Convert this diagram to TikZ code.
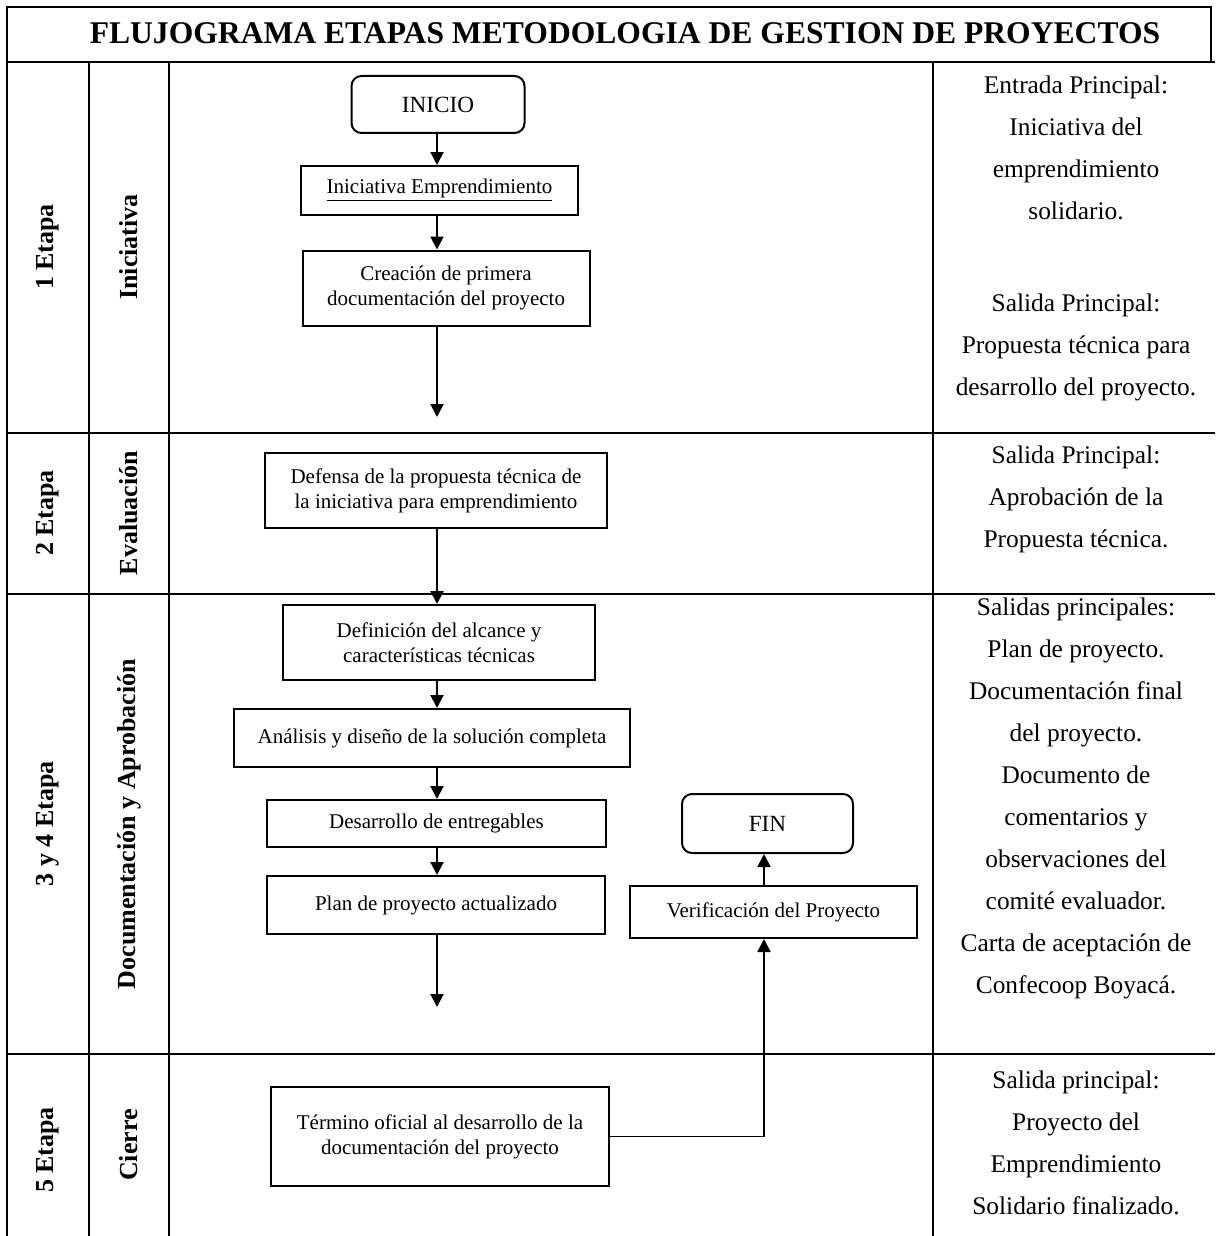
\documentclass[tikz,border=0pt]{standalone}
\usepackage{fontspec}
\setmainfont{Liberation Serif}
\usetikzlibrary{arrows.meta}

\begin{document}
\begin{tikzpicture}[x=0.5pt, y=-0.5pt,
		caja/.style={draw, line width=1pt, align=center, inner sep=2pt, font=\fontsize{10.5}{12.5}\selectfont},
		terminal/.style={caja, rounded corners=5pt, font=\fontsize{11.6}{14}\selectfont},
		etiqueta/.style={rotate=90, font=\fontsize{13}{15}\selectfont\bfseries},
		salida/.style={anchor=north, align=center, inner sep=0pt, font=\fontsize{12.7}{21}\selectfont},
		flecha/.style={-{Triangle[width=6.5pt,length=6.5pt]}, line width=1pt}]

	\useasboundingbox (0,0) rectangle (1215,1236);

	% tabla
	\begin{scope}[line width=1pt]
		\draw (7,1236) -- (7,7) -- (1211,7) -- (1211,62);
		\draw (7,62) -- (1215,62);
		\foreach \y in {433,594,1054} \draw (7,\y) -- (1215,\y);
		\foreach \x in {89,169,933} \draw (\x,62) -- (\x,1236);
	\end{scope}

	\node[font=\fontsize{15.8}{18}\selectfont\bfseries] (titulo) at (625,33) {FLUJOGRAMA ETAPAS METODOLOGIA DE GESTION DE PROYECTOS};

	% etapas
	\node[etiqueta] (etapa1) at (48,247) {1 Etapa};
	\node[etiqueta] (fase1) at (129,247) {Iniciativa};
	\node[etiqueta] (etapa2) at (48,513) {2 Etapa};
	\node[etiqueta] (fase2) at (129,513) {Evaluación};
	\node[etiqueta] (etapa3) at (48,824) {3 y 4 Etapa};
	\node[etiqueta] (fase3) at (129,824) {Documentación y Aprobación};
	\node[etiqueta] (etapa5) at (48,1150) {5 Etapa};
	\node[etiqueta] (fase5) at (129,1145) {Cierre};

	% salidas
	\node[salida] (ent1) at (1076,75) {Entrada Principal:\\Iniciativa del\\emprendimiento\\solidario.};
	\node[salida] (sal1) at (1076,293) {Salida Principal:\\Propuesta técnica para\\desarrollo del proyecto.};
	\node[salida] (sal2) at (1076,445) {Salida Principal:\\Aprobación de la\\Propuesta técnica.};
	\node[salida] (sal3) at (1076,597) {Salidas principales:\\Plan de proyecto.\\Documentación final\\del proyecto.\\Documento de\\comentarios y\\observaciones del\\comité evaluador.\\Carta de aceptación de\\Confecoop Boyacá.};
	\node[salida] (sal5) at (1076,1070) {Salida principal:\\Proyecto del\\Emprendimiento\\Solidario finalizado.};

	% flujo
	\node[terminal, minimum width=86.5pt, minimum height=28.5pt] (inicio) at (438,104.5) {INICIO};
	\node[caja, minimum width=138.5pt, minimum height=24.5pt] (iniEmp) at (439.5,190.5) {\underline{Iniciativa Emprendimiento}};
	\node[caja, minimum width=143.5pt, minimum height=37.5pt] (creacion) at (446,288) {Creación de primera\\documentación del proyecto};
	\node[caja, minimum width=171pt, minimum height=37.5pt] (defensa) at (436,490.5) {Defensa de la propuesta técnica de\\la iniciativa para emprendimiento};
	\node[caja, minimum width=156pt, minimum height=37.5pt] (definicion) at (439,642.5) {Definición del alcance y\\características técnicas};
	\node[caja, minimum width=198pt, minimum height=29pt] (analisis) at (432,738) {Análisis y diseño de la solución completa};
	\node[caja, minimum width=169.5pt, minimum height=23.5pt] (desarrollo) at (436.5,823.5) {Desarrollo de entregables};
	\node[caja, minimum width=169pt, minimum height=29pt] (plan) at (436,905) {Plan de proyecto actualizado};
	\node[terminal, minimum width=85.5pt, minimum height=29.5pt] (fin) at (767.5,823.5) {FIN};
	\node[caja, minimum width=143.5pt, minimum height=26pt] (verif) at (773.5,912) {Verificación del Proyecto};
	\node[caja, minimum width=169pt, minimum height=49.5pt] (termino) at (440,1136.5) {Término oficial al desarrollo de la\\documentación del proyecto};

	\coordinate (eje) at (437,0);
	\coordinate (sube) at (764,0);
	\coordinate (libre1) at (437,417);
	\coordinate (libre3) at (437,1007);

	\begin{scope}[flecha]
		\draw (inicio.south -| eje) -- (iniEmp.north -| eje);
		\draw (iniEmp.south -| eje) -- (creacion.north -| eje);
		\draw (creacion.south -| eje) -- (libre1);
		\draw (defensa.south -| eje) -- (definicion.north -| eje);
		\draw (definicion.south -| eje) -- (analisis.north -| eje);
		\draw (analisis.south -| eje) -- (desarrollo.north -| eje);
		\draw (desarrollo.south -| eje) -- (plan.north -| eje);
		\draw (plan.south -| eje) -- (libre3);
		\draw (termino.east -| sube) -- (verif.south -| sube);
		\draw (verif.north -| sube) -- (fin.south -| sube);
	\end{scope}
	\draw[line width=0.5pt] (termino.east) -- (termino.east -| sube);

\end{tikzpicture}
\end{document}
